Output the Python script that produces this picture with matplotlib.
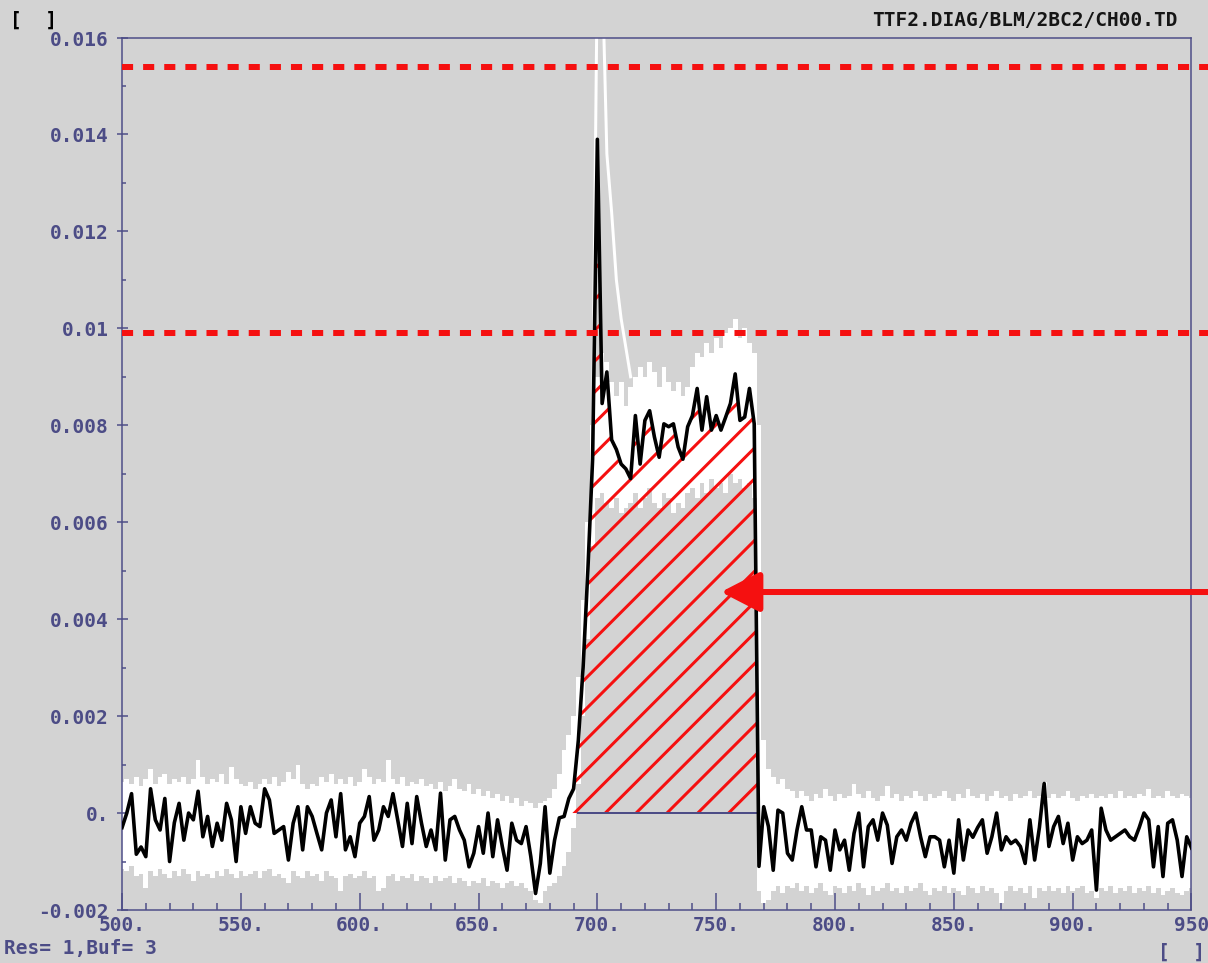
import matplotlib
matplotlib.use('Agg')
import matplotlib.pyplot as plt
import numpy as np

DPI = 185


def pt(px):
    """Pixel length at the output dpi -> points."""
    return px * 72.0 / DPI


# BLM channel readout, one sample every 2 channels (values in units of 1e-3)
sample_x = np.arange(500, 951, 2)

signal = [
    -0.3, 0.0, 0.4, -0.85, -0.7, -0.9, 0.5, -0.14, -0.35, 0.3,
    -1.0, -0.2, 0.2, -0.56, 0.0, -0.14, 0.45, -0.49, -0.07, -0.69,
    -0.21, -0.56, 0.2, -0.14, -1.0, 0.13, -0.42, 0.13, -0.21, -0.28,
    0.5, 0.27, -0.42, -0.35, -0.28, -0.97, -0.21, 0.13, -0.76, 0.13,
    -0.07, -0.42, -0.76, 0.0, 0.27, -0.49, 0.4, -0.76, -0.49, -0.9,
    -0.21, -0.07, 0.34, -0.56, -0.35, 0.13, -0.07, 0.4, -0.14, -0.69,
    0.2, -0.63, 0.34, -0.21, -0.69, -0.35, -0.76, 0.41, -0.97, -0.14,
    -0.07, -0.35, -0.56, -1.11, -0.83, -0.28, -0.83, 0.0, -0.9, -0.14,
    -0.69, -1.18, -0.21, -0.56, -0.63, -0.28, -0.9, -1.66, -1.04, 0.13,
    -1.24, -0.56, -0.1, -0.07, 0.3, 0.5, 1.5, 3.0, 5.0, 7.3,
    13.9, 8.45, 9.1, 7.7, 7.5, 7.2, 7.1, 6.9, 8.2, 7.2,
    8.1, 8.3, 7.76, 7.34, 8.03, 7.97, 8.03, 7.55, 7.3, 7.97,
    8.2, 8.76, 7.9, 8.59, 7.9, 8.2, 7.9, 8.17, 8.45, 9.06,
    8.1, 8.17, 8.76, 8.03, -1.1, 0.13, -0.28, -1.18, 0.06, 0.0,
    -0.83, -0.97, -0.35, 0.13, -0.35, -0.35, -1.11, -0.49, -0.56, -1.18,
    -0.35, -0.76, -0.56, -1.18, -0.42, 0.0, -1.11, -0.28, -0.14, -0.56,
    0.0, -0.25, -1.04, -0.49, -0.35, -0.56, -0.21, 0.0, -0.49, -0.9,
    -0.49, -0.49, -0.56, -1.11, -0.56, -1.24, -0.14, -0.97, -0.35, -0.5,
    -0.3, -0.14, -0.83, -0.49, 0.0, -0.76, -0.49, -0.63, -0.56, -0.69,
    -1.04, -0.14, -0.97, -0.3, 0.61, -0.69, -0.28, -0.07, -0.63, -0.21,
    -0.97, -0.49, -0.63, -0.56, -0.35, -1.59, 0.1, -0.35, -0.56, -0.49,
    -0.42, -0.35, -0.49, -0.56, -0.3, 0.0, -0.14, -1.11, -0.28, -1.31,
    -0.21, -0.14, -0.56, -1.31, -0.49, -0.72,
]

# min / max over the buffered shots
env_hi = [
    0.65, 0.7, 0.6, 0.75, 0.55, 0.7, 0.9, 0.6, 0.75, 0.8,
    0.6, 0.7, 0.65, 0.75, 0.6, 0.7, 1.1, 0.75, 0.6, 0.7,
    0.65, 0.8, 0.6, 0.95, 0.7, 0.6, 0.55, 0.65, 0.5, 0.6,
    0.7, 0.6, 0.75, 0.55, 0.65, 0.85, 0.7, 1.0, 0.6, 0.5,
    0.6, 0.55, 0.75, 0.65, 0.8, 0.6, 0.7, 0.6, 0.75, 0.55,
    0.65, 0.9, 0.75, 0.6, 0.7, 0.65, 1.1, 0.7, 0.6, 0.75,
    0.55, 0.65, 0.6, 0.7, 0.55, 0.6, 0.5, 0.65, 0.45, 0.55,
    0.7, 0.5, 0.45, 0.6, 0.4, 0.5, 0.35, 0.45, 0.3, 0.4,
    0.25, 0.35, 0.2, 0.3, 0.15, 0.25, 0.2, 0.1, 0.2, 0.25,
    0.3, 0.5, 0.8, 1.3, 1.6, 2.0, 2.8, 4.4, 6.0, 8.0,
    9.0, 9.5, 9.3, 8.9, 8.6, 8.9, 8.4, 8.8, 9.0, 9.2,
    9.0, 9.3, 9.1, 8.8, 9.2, 8.9, 8.7, 8.9, 8.6, 8.8,
    9.2, 9.5, 9.4, 9.7, 9.5, 9.8, 9.6, 9.9, 10.0, 10.2,
    9.8, 10.0, 9.7, 9.5, 8.0, 1.5, 0.9, 0.75, 0.6, 0.7,
    0.5, 0.45, 0.3, 0.45, 0.35, 0.25, 0.4, 0.3, 0.5, 0.35,
    0.25, 0.4, 0.3, 0.35, 0.6, 0.4, 0.3, 0.45, 0.3, 0.25,
    0.35, 0.55, 0.3, 0.4, 0.25, 0.35, 0.3, 0.45, 0.35, 0.25,
    0.4, 0.3, 0.35, 0.45, 0.3, 0.25, 0.4, 0.3, 0.5, 0.35,
    0.3, 0.4, 0.25, 0.35, 0.45, 0.3, 0.35, 0.25, 0.4, 0.3,
    0.35, 0.45, 0.3, 0.35, 0.65, 0.3, 0.4, 0.3, 0.35, 0.45,
    0.3, 0.25, 0.35, 0.3, 0.4, 0.3, 0.35, 0.3, 0.4, 0.3,
    0.45, 0.3, 0.35, 0.3, 0.4, 0.35, 0.5, 0.3, 0.35, 0.3,
    0.45, 0.35, 0.3, 0.4, 0.35, 0.3,
]

env_lo = [
    -1.15, -1.2, -1.1, -1.3, -1.25, -1.55, -1.2, -1.3, -1.15, -1.25,
    -1.35, -1.2, -1.3, -1.15, -1.25, -1.4, -1.2, -1.3, -1.25, -1.35,
    -1.2, -1.3, -1.15, -1.25, -1.35, -1.2, -1.3, -1.25, -1.2, -1.35,
    -1.2, -1.15, -1.3, -1.25, -1.35, -1.45, -1.2, -1.3, -1.35, -1.2,
    -1.3, -1.25, -1.4, -1.2, -1.3, -1.35, -1.6, -1.3, -1.25, -1.35,
    -1.3, -1.2, -1.35, -1.3, -1.6, -1.55, -1.3, -1.25, -1.4, -1.3,
    -1.35, -1.25, -1.4, -1.3, -1.35, -1.45, -1.3, -1.4, -1.35, -1.3,
    -1.45, -1.35, -1.4, -1.5, -1.4, -1.45, -1.35, -1.5, -1.4, -1.45,
    -1.55, -1.45, -1.4, -1.5, -1.45, -1.55, -1.6, -1.8, -1.85, -1.6,
    -1.5, -1.45, -1.3, -1.1, -0.8, -0.3, 0.6, 2.0, 3.6, 5.5,
    6.5, 6.6, 6.4, 6.3, 6.5, 6.2, 6.3, 6.4, 6.6, 6.3,
    6.5, 6.7, 6.4, 6.3, 6.6, 6.5, 6.2, 6.4, 6.3, 6.6,
    6.7, 6.5, 6.8, 6.6, 6.9, 6.7, 6.8, 6.6, 7.0, 6.8,
    6.9, 6.7, 6.8, 6.5, -1.6, -1.85, -1.8, -1.6, -1.5, -1.65,
    -1.5, -1.55, -1.45, -1.6, -1.5, -1.65, -1.55, -1.45, -1.6, -1.7,
    -1.5, -1.55, -1.65, -1.5, -1.6, -1.45, -1.55, -1.7, -1.5, -1.6,
    -1.55, -1.45, -1.6, -1.55, -1.65, -1.5, -1.6, -1.55, -1.45, -1.6,
    -1.7, -1.55, -1.6, -1.5, -1.65, -1.55, -1.6, -1.7, -1.5, -1.55,
    -1.65, -1.5, -1.6, -1.55, -1.65, -1.85, -1.6, -1.5, -1.6, -1.55,
    -1.65, -1.5, -1.75, -1.55, -1.6, -1.5, -1.6, -1.55, -1.65, -1.5,
    -1.6, -1.55, -1.5, -1.65, -1.6, -1.75, -1.55, -1.6, -1.5, -1.65,
    -1.55, -1.6, -1.5, -1.65, -1.55, -1.6, -1.5, -1.65, -1.55, -1.7,
    -1.6, -1.55, -1.65, -1.7, -1.6, -1.55,
]

# max-hold trace around the first-bunch spike
peak_x = [698, 700, 702, 704, 706, 708, 710, 712, 714]
peak_hi = [8.0, 17.5, 17.5, 13.6, 12.4, 11.0, 10.2, 9.6, 9.0]

# integration window and alarm thresholds
window = (684, 766)
thresholds = [0.0154, 0.0099]
marker_y = 0.00456
marker_tip = 752

xticks = [500, 550, 600, 650, 700, 750, 800, 850, 900, 950]
xtick_labels = ['500.', '550.', '600.', '650.', '700.', '750.', '800.',
                '850.', '900.', '950']
yticks = [-0.002, 0.0, 0.002, 0.004, 0.006, 0.008, 0.01, 0.012, 0.014, 0.016]
ytick_labels = ['-0.002', '0.', '0.002', '0.004', '0.006', '0.008', '0.01',
                '0.012', '0.014', '0.016']

bg = '#d3d3d3'
navy = '#4c4c86'
red = '#f51010'
font_px = 19.5

plt.rcParams['font.family'] = 'DejaVu Sans Mono'
plt.rcParams['font.weight'] = 'bold'
plt.rcParams['hatch.linewidth'] = pt(3)
plt.rcParams['hatch.color'] = red

sig = np.array(signal) * 1e-3
hi = np.array(env_hi) * 1e-3
lo = np.array(env_lo) * 1e-3

W, H = 1208, 963
fig = plt.figure(figsize=((W + 0.5) / DPI, (H + 0.5) / DPI), dpi=DPI,
                 facecolor=bg)
ax = fig.add_axes([122 / W, 1 - 910 / H, (1191 - 122) / W, (910 - 38) / H])
ax.set_facecolor(bg)

# white envelope of the buffered shots
ax.fill_between(sample_x, lo, hi, step='mid', color='white', lw=0, zorder=1)
ax.plot(peak_x, np.array(peak_hi) * 1e-3, color='white', lw=pt(3), zorder=1.5)

# hatched integral over the window
in_win = (sample_x >= window[0]) & (sample_x <= window[1])
ax.fill_between(sample_x, 0, sig, where=in_win, interpolate=True,
                facecolor='none', edgecolor=red, linewidth=0, hatch='//',
                zorder=2)
ax.plot([692, 767], [0, 0], color=navy, lw=pt(2), zorder=2.5)

# current shot
ax.plot(sample_x, sig, color='black', lw=pt(3.6), zorder=3)

for y in thresholds:
    ax.plot([500, 960], [y, y], color=red, lw=pt(6),
            linestyle=(0, (1.85, 1.67)), clip_on=False, zorder=4)

ax.annotate('', xy=(marker_tip, marker_y), xytext=(962, marker_y),
            arrowprops=dict(arrowstyle='-|>,head_length=0.64,head_width=0.33',
                            color=red, lw=pt(6), mutation_scale=20,
                            shrinkA=0, shrinkB=0),
            annotation_clip=False, zorder=5)

ax.set_xlim(500, 950)
ax.set_ylim(-0.002, 0.016)

for s in ax.spines.values():
    s.set_color(navy)
    s.set_linewidth(pt(1.5))

fs = pt(font_px)
ax.set_xticks(xticks)
ax.set_xticklabels(xtick_labels)
ax.set_xticks(np.arange(500, 951, 10), minor=True)
ax.set_yticks(yticks)
ax.set_yticklabels(ytick_labels)
ax.set_yticks(np.arange(-0.002, 0.0161, 0.001), minor=True)
ax.tick_params(axis='x', which='major', direction='in', length=pt(17),
               width=pt(1.5), color=navy, pad=pt(6), labelsize=fs,
               labelcolor=navy)
ax.tick_params(axis='x', which='minor', direction='in', length=pt(7),
               width=pt(1.5), color=navy)
ax.tick_params(axis='y', which='major', direction='inout', length=pt(11),
               width=pt(1.5), color=navy, pad=pt(7.5), labelsize=fs,
               labelcolor=navy)
ax.tick_params(axis='y', which='minor', direction='in', length=pt(4),
               width=pt(1.5), color=navy)

fig.text(10 / W, 1 - 20 / H, '[  ]', color='black', ha='left', va='center',
         fontsize=fs)
fig.text(1177 / W, 1 - 20 / H, 'TTF2.DIAG/BLM/2BC2/CH00.TD', color='#151515',
         ha='right', va='center', fontsize=fs)
fig.text(4 / W, 1 - 948 / H, 'Res= 1,Buf= 3', color=navy, ha='left',
         va='center', fontsize=fs)
fig.text(1205 / W, 1 - 952 / H, '[  ]', color=navy, ha='right', va='center',
         fontsize=fs)

fig.savefig('out.png', dpi=DPI, facecolor=bg)
